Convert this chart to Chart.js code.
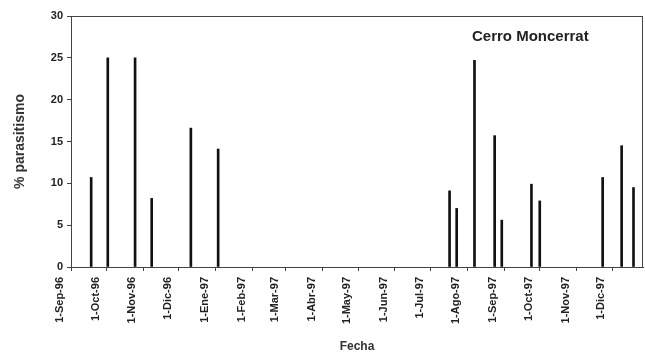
<!DOCTYPE html>
<html><head><meta charset="utf-8">
<script src="https://cdn.jsdelivr.net/npm/chart.js@4"></script>
<style>html,body{margin:0;padding:0;background:#fff}#wrap{width:645px;height:354px}</style>
</head><body><div id="wrap"><canvas id="c"></canvas></div>
<script>
const sampleDates = ['1996-09-18','1996-10-02','1996-10-25','1996-11-08','1996-12-11','1997-01-03',
  '1997-07-17','1997-07-23','1997-08-07','1997-08-24','1997-08-30','1997-09-24','1997-10-01',
  '1997-11-23','1997-12-09','1997-12-19'];
const parasitismo = [10.7, 25, 25, 8.2, 16.6, 14.1, 9.1, 7.0, 24.7, 15.7, 5.6, 9.9, 7.9, 10.7, 14.5, 9.5];
const tickDates = ['1996-09-01','1996-10-01','1996-11-01','1996-12-01','1997-01-01','1997-02-01','1997-03-01',
  '1997-04-01','1997-05-01','1997-06-01','1997-07-01','1997-08-01','1997-09-01','1997-10-01','1997-11-01','1997-12-01'];
const tickLabels = ['1-Sep-96','1-Oct-96','1-Nov-96','1-Dic-96','1-Ene-97','1-Feb-97','1-Mar-97','1-Abr-97',
  '1-May-97','1-Jun-97','1-Jul-97','1-Ago-97','1-Sep-97','1-Oct-97','1-Nov-97','1-Dic-97'];
const axisStart = '1996-09-01';
const axisEnd = '1997-12-27';
const yMin = 0, yMax = 30, yStep = 5;

function dayNum(s){
  const p = s.split('-').map(Number);
  const q = axisStart.split('-').map(Number);
  return (Date.UTC(p[0],p[1]-1,p[2]) - Date.UTC(q[0],q[1]-1,q[2]))/86400000;
}
const points = sampleDates.map((d,i)=>({x: dayNum(d), y: parasitismo[i]}));
const FONT = "'Liberation Sans', Arial, sans-serif";

const framePlugin = {
  id: 'frame',
  afterDatasetsDraw(chart){
    const {ctx, chartArea:a} = chart;
    ctx.save();
    ctx.strokeStyle = '#444';
    ctx.lineWidth = 1;
    ctx.strokeRect(a.left+0.5, a.top+0.5, a.right-a.left-1, a.bottom-a.top);
    ctx.fillStyle = '#222';
    ctx.font = "bold 15px " + FONT;
    ctx.textAlign = 'left';
    ctx.textBaseline = 'middle';
    ctx.fillText('Cerro Moncerrat', 472, 37);
    ctx.restore();
  }
};

new Chart(document.getElementById('c'), {
  type: 'bar',
  data: { datasets: [{ data: points, backgroundColor: '#111', borderWidth: 0, barThickness: 2 }] },
  options: {
    responsive: true, maintainAspectRatio: false, animation: false,
    layout: { padding: { top: 16, right: 2, left: 0, bottom: 0 } },
    plugins: { legend: { display: false }, tooltip: { enabled: false } },
    scales: {
      x: {
        type: 'linear', min: 0, max: dayNum(axisEnd), offset: false,
        afterBuildTicks(scale){ scale.ticks = tickDates.map(d=>({value: dayNum(d)})); },
        afterFit(scale){ scale.height = 87; },
        grid: { drawOnChartArea: false, drawTicks: true, tickLength: 4, color: '#444', offset: false },
        border: { color: '#444', width: 1 },
        ticks: { autoSkip: false, maxRotation: 90, minRotation: 90, labelOffset: -11, padding: 6,
          color: '#222', font: { family: FONT, size: 11, weight: 'bold' },
          callback: (v, i) => tickLabels[i] },
        title: { display: true, text: 'Fecha', color: '#333', font: { family: FONT, size: 12, weight: 'bold' }, padding: { top: 1, bottom: 0 } }
      },
      y: {
        min: yMin, max: yMax,
        afterBuildTicks(scale){ const t=[]; for(let v=yMin; v<=yMax; v+=yStep) t.push({value:v}); scale.ticks=t; },
        afterFit(scale){ scale.width = 71; },
        grid: { drawOnChartArea: false, drawTicks: true, tickLength: 4, color: '#444' },
        border: { color: '#444', width: 1 },
        ticks: { padding: 4, color: '#222', font: { family: FONT, size: 11, weight: 'bold' } },
        title: { display: true, text: '% parasitismo', color: '#333', font: { family: FONT, size: 14, weight: 'bold' }, padding: { top: 12, bottom: 0 } }
      }
    }
  },
  plugins: [framePlugin]
});
</script></body></html>
